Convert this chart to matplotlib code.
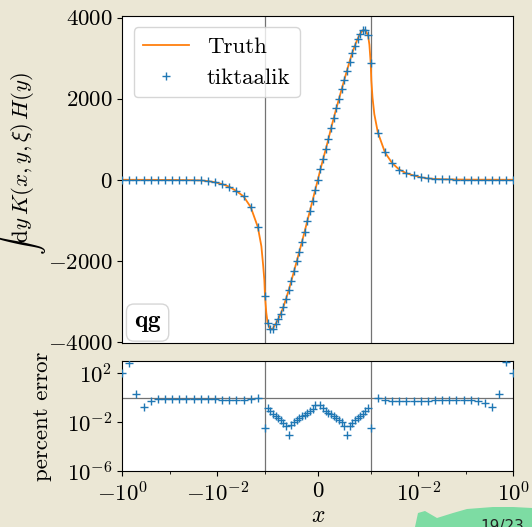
import numpy as np
import matplotlib.pyplot as plt
from matplotlib.ticker import FixedLocator, FuncFormatter, NullLocator
from matplotlib.patches import Polygon

plt.rcParams.update({
    'font.family': 'serif',
    'font.serif': ['cmr10'],
    'mathtext.fontset': 'cm',
    'axes.unicode_minus': False,
    'axes.formatter.use_mathtext': True,
    'font.size': 16.5,
})

XI = 1e-3

# x grid: log spaced outside |x| > xi, linear inside
x_left = -np.logspace(0, -2.85, 20)
x_mid = np.linspace(-XI, XI, 41)
x_right = np.logspace(-2.85, 0, 20)

# int dy K(x,y,xi) H(y), qg channel
qg_left = [0, -1, -1, -2, -2, -3, -4, -5, -6, -8,
           -11, -16, -33, -62, -107, -172, -279, -410, -673, -1166]
qg_mid = [-2857, -3530, -3694, -3670, -3560, -3440, -3300, -3130, -2930, -2720,
          -2490, -2255, -2015, -1775, -1530, -1280, -1020, -770, -515, -255,
          0,
          263, 509, 755, 1002, 1273, 1519, 1765, 1995, 2233, 2463,
          2693, 2915, 3130, 3310, 3470, 3600, 3690, 3690, 3560, 2874]
qg_right = [1165, 673, 411, 250, 160, 107, 60, 33, 20, 13,
            9, 6, 4, 3, 2, 2, 1, 1, 0, 0]

# extra samples of the exact curve around the kinks at +-xi
truth_extra_x = [-1.19e-3, -1.09e-3, -1.03e-3, -0.975e-3, 0.975e-3, 1.03e-3, 1.09e-3, 1.19e-3]
truth_extra_y = [-1640, -2120, -2480, -3280, 3330, 2450, 2030, 1620]

# relative deviation tiktaalik vs truth, percent
err_left = [100, 741, 2.24, 0.182, 0.562, 0.741, 0.832, 0.851, 0.851, 0.851,
            0.813, 0.794, 0.759, 0.759, 0.724, 0.724, 0.724, 0.724, 0.759, 0.933]
err_mid = [0.00316, 0.158, 0.0851, 0.0513, 0.0331, 0.0214, 0.0151, 0.00955, 0.00501, 0.001,
           0.00575, 0.0107, 0.0158, 0.0229, 0.0331, 0.0427, 0.0575, 0.0794, 0.117, 0.251,
           np.nan,
           0.282, 0.141, 0.0891, 0.0603, 0.0437, 0.0316, 0.0224, 0.0151, 0.01, 0.00501,
           0.001, 0.00525, 0.00933, 0.0145, 0.0209, 0.0316, 0.0501, 0.0794, 0.151, 0.00355]
err_right = [0.955, 0.617, 0.575, 0.575, 0.575, 0.575, 0.575, 0.575, 0.617, 0.617,
             0.617, 0.661, 0.708, 0.708, 0.513, 0.372, 0.174, 2.19, 759, 100]

x = np.concatenate([x_left, x_mid, x_right])
qg = np.array(qg_left + qg_mid + qg_right, dtype=float)
err = np.array(err_left + err_mid + err_right, dtype=float)

xt = np.concatenate([x, truth_extra_x])
yt = np.concatenate([qg, truth_extra_y])
order = np.argsort(xt)
xt, yt = xt[order], yt[order]

fig = plt.figure(figsize=(5.32, 5.27), dpi=100, facecolor='#ebe7d5')
ax = fig.add_axes([0.2297, 0.3482, 0.7355, 0.6214])
ax2 = fig.add_axes([0.2297, 0.1055, 0.7355, 0.2095], sharex=ax)

# top panel
ax.plot(xt, yt, color='C1', lw=1.3, label='Truth', zorder=2)
ax.plot(x, qg, '+', color='C0', ms=6, mew=1.0, label='tiktaalik', zorder=3)
for xv in (-XI, XI):
    ax.axvline(xv, color='0.45', lw=0.9, zorder=1)
    ax2.axvline(xv, color='0.45', lw=0.9, zorder=1)

ax.set_xscale('symlog', linthresh=XI, linscale=1)
ax.set_xlim(-1, 1)
ax.set_ylim(-4040, 4040)
ax.set_yticks([-4000, -2000, 0, 2000, 4000])
ax.yaxis.set_major_formatter(FuncFormatter(lambda v, p: r'$%d$' % v))
ax.tick_params(axis='x', which='both', bottom=False, labelbottom=False)
ax.legend(loc='upper left', fontsize=16.5)
ax.text(0.03, 0.03, r'$\mathbf{qg}$', transform=ax.transAxes, fontsize=18,
        ha='left', va='bottom',
        bbox=dict(boxstyle='round,pad=0.3', fc='white', ec='0.8', alpha=0.8))
ax.set_ylabel(r'$\int\mathrm{d}y\,K(x,y,\xi)\,H(y)$', fontsize=16.5)
ax.yaxis.set_label_coords(-0.19, 0.55)

# bottom panel
ax2.plot(x, err, '+', color='C0', ms=6, mew=1.0, zorder=3)
ax2.axhline(1, color='0.45', lw=0.9, zorder=1)
ax2.set_yscale('log')
ax2.set_ylim(1e-6, 1e3)
ax2.set_yticks([1e-6, 1e-2, 1e2])
ax2.yaxis.set_minor_locator(NullLocator())
ax2.set_xticks([-1, -1e-2, 0, 1e-2, 1])
ax2.xaxis.set_minor_locator(FixedLocator([-0.1, -XI, XI, 0.1]))
ax2.set_ylabel('percent error', fontsize=16.5)
ax2.yaxis.set_label_coords(-0.18, 0.5)
ax2.set_xlabel(r'$x$', fontsize=17)
ax2.xaxis.set_label_coords(0.5, -0.3)

# page marker in the corner
W, H = 532, 527
blob = [(415, 527), (418, 513), (425, 511), (437, 518), (453, 513), (467, 509),
        (493, 507), (513, 507), (532, 508), (532, 527)]
fig.patches.append(Polygon([(bx / W, 1 - by / H) for bx, by in blob], closed=True,
                           transform=fig.transFigure, fc='#7ddca3', ec='none'))
fig.text(480 / W, 1 - 519 / H, '19/23', va='top', ha='left', fontsize=11,
         family='DejaVu Sans', color='#222222')

fig.savefig('out.png', dpi=100, facecolor=fig.get_facecolor())
